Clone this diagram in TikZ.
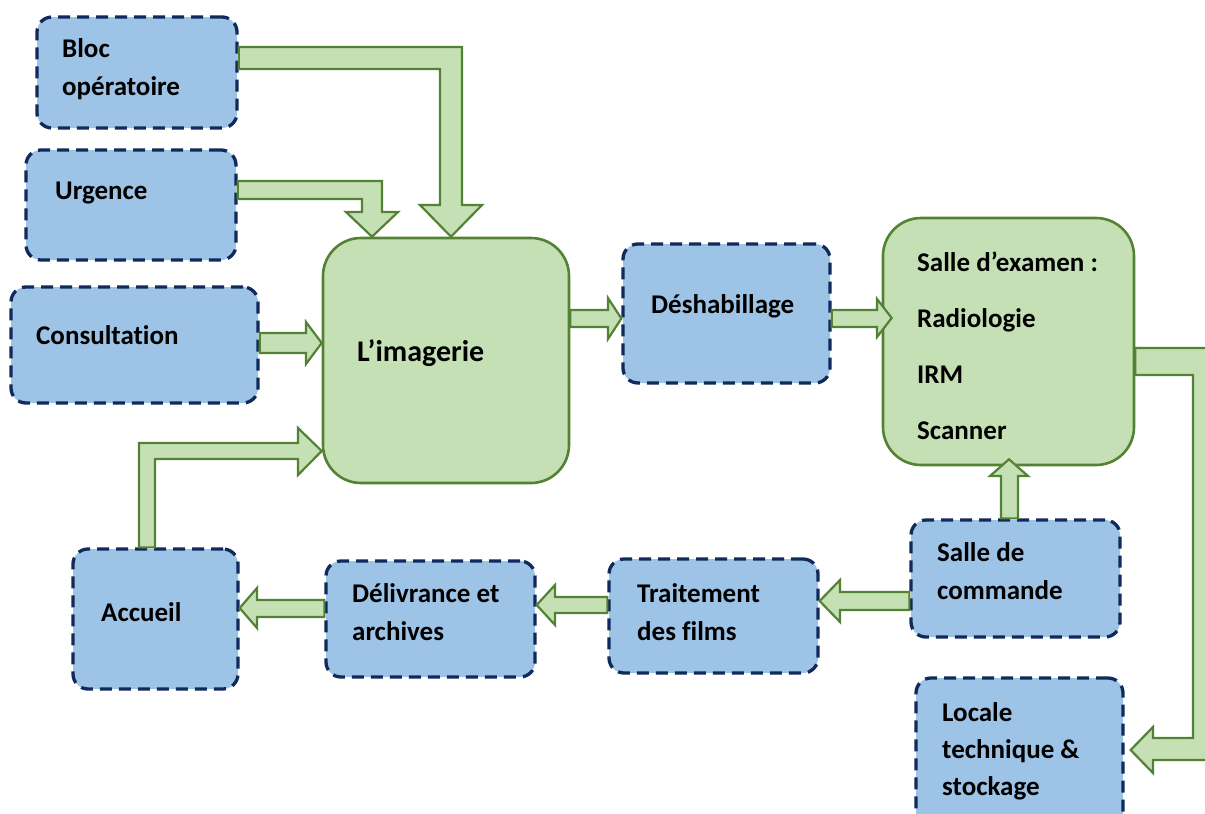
\documentclass[tikz,border=0pt]{standalone}
\usepackage{fontspec}
\setmainfont{Carlito}[Ligatures=NoCommon]
\usetikzlibrary{calc}
\definecolor{bfill}{HTML}{9DC3E6}
\definecolor{bline}{HTML}{102A5C}
\definecolor{gfill}{HTML}{C5E0B4}
\definecolor{gline}{HTML}{548235}
\tikzset{
 bbox/.style={draw=bline, fill=bfill, line width=3.3pt, dash pattern=on 12pt off 7pt, rounded corners=15pt, inner sep=0pt},
 gbox/.style={draw=gline, fill=gfill, line width=2.6pt, rounded corners=38pt, inner sep=0pt},
 lbl/.style={anchor=base west, inner sep=0pt, align=left, font=\bfseries\fontsize{27}{38}\selectfont},
 blk/.style={draw=gline, fill=gfill, line width=2.2pt, line join=miter},
}
\begin{document}
\begin{tikzpicture}[x=1pt,y=-1pt]
\useasboundingbox (0,0) rectangle (1205,814);
\clip (0,0) rectangle (1205,814);
% boxes
\node[bbox, minimum width=200pt, minimum height=111pt] (bloc) at (137,72.5) {};
\node[bbox, minimum width=210pt, minimum height=110pt] (urg) at (131,205) {};
\node[bbox, minimum width=247pt, minimum height=116pt] (cons) at (134.5,345) {};
\node[gbox, minimum width=246pt, minimum height=245pt] (img) at (446,360.5) {};
\node[bbox, minimum width=207pt, minimum height=139pt] (desh) at (726.5,313.5) {};
\node[gbox, minimum width=251pt, minimum height=247pt] (exam) at (1008.5,341.5) {};
\node[bbox, minimum width=209pt, minimum height=117pt] (cmd) at (1015.5,578.5) {};
\node[bbox, minimum width=209pt, minimum height=114pt] (trait) at (713.5,616) {};
\node[bbox, minimum width=209pt, minimum height=116pt] (deliv) at (430.5,619) {};
\node[bbox, minimum width=165pt, minimum height=140pt] (acc) at (155.5,619) {};
\node[bbox, minimum width=207pt, minimum height=162pt] (loc) at (1019.5,759) {};
% labels (base = baseline of last line)
\node[lbl] (tbloc) at (62,95) {Bloc\\opératoire};
\node[lbl] (turg) at (55,199) {Urgence};
\node[lbl] (tcons) at (36,344) {Consultation};
\node[lbl, font=\bfseries\fontsize{30}{38}\selectfont] (timg) at (357,361) {L’imagerie};
\node[lbl] (tdesh) at (651,313) {Déshabillage};
\node[lbl, font=\bfseries\fontsize{27}{56}\selectfont] (texam) at (917,439) {Salle d’examen :\\Radiologie\\IRM\\Scanner};
\node[lbl] (tcmd) at (937,599) {Salle de\\commande};
\node[lbl] (ttrait) at (637,640) {Traitement\\des films};
\node[lbl] (tdeliv) at (352,640) {Délivrance et\\archives};
\node[lbl] (tacc) at (101,621) {Accueil};
\node[lbl, font=\bfseries\fontsize{27}{37}\selectfont] (tloc) at (942,795) {Locale\\technique \&\\stockage};
% block arrows
\draw[blk] (bloc.east |- 0,47) -- (462,47) -- (462,205) -- (482,205) -- (img.north -| 451,0) -- (420,205) -- (440,205) -- (440,69) -- (bloc.east |- 0,69) -- cycle;
\draw[blk] (urg.east |- 0,181) -- (382,181) -- (382,212) -- (398,212) -- (img.north -| 372,0) -- (346,212) -- (362,212) -- (362,199) -- (urg.east |- 0,199) -- cycle;
\draw[blk] (cons.east |- 0,333) -- (306,333) -- (306,322) -- (img.west |- 0,343) -- (306,364) -- (306,353) -- (cons.east |- 0,353) -- cycle;
\draw[blk] (acc.north -| 139,0) -- (139,443) -- (298,443) -- (298,428) -- (img.west |- 0,451) -- (298,475) -- (298,459) -- (155,459) -- (acc.north -| 155,0) -- cycle;
\draw[blk] (deliv.west |- 0,600) -- (257,600) -- (257,588) -- (acc.east |- 0,608) -- (257,628) -- (257,617) -- (deliv.west |- 0,617) -- cycle;
\draw[blk] (trait.west |- 0,597) -- (555,597) -- (555,585) -- (deliv.east |- 0,605) -- (555,625) -- (555,613) -- (trait.west |- 0,613) -- cycle;
\draw[blk] (cmd.west |- 0,592) -- (840,592) -- (840,580) -- (trait.east |- 0,601) -- (840,622) -- (840,610) -- (cmd.west |- 0,610) -- cycle;
\draw[blk] (cmd.north -| 1001,0) -- (1001,476) -- (990,476) -- ([yshift=7pt]exam.south -| 1009,0) -- (1028,476) -- (1018,476) -- (cmd.north -| 1018,0) -- cycle;
\draw[blk] (img.east |- 0,310) -- (608,310) -- (608,298) -- (desh.west |- 0,318.5) -- (608,339) -- (608,327) -- (img.east |- 0,327) -- cycle;
\draw[blk] (desh.east |- 0,310) -- (877,310) -- (877,299) -- ([xshift=10pt]exam.west |- 0,318) -- (877,337) -- (877,327) -- (desh.east |- 0,327) -- cycle;
\draw[blk] (exam.east |- 0,348) -- (1216,348) -- (1216,760) -- (1153,760) -- (1153,773) -- ([xshift=6pt]loc.east |- 0,750) -- (1153,727) -- (1153,738) -- (1193,738) -- (1193,375) -- (exam.east |- 0,375) -- cycle;
\end{tikzpicture}
\end{document}
